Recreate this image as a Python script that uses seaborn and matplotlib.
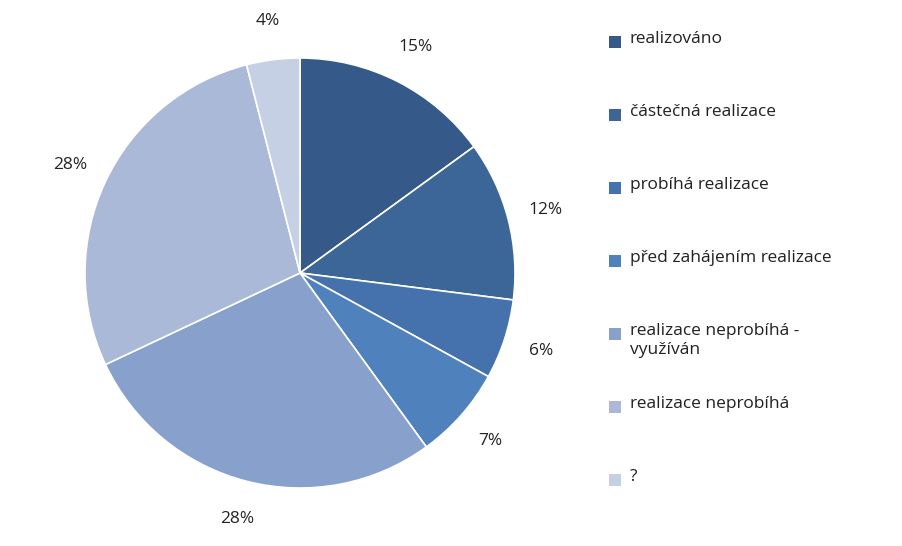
import matplotlib
matplotlib.use("Agg")
import matplotlib.pyplot as plt
import seaborn as sns
from matplotlib.patches import Rectangle

categories = ["realizováno", "částečná realizace", "probíhá realizace", "před zahájením realizace",
              "realizace neprobíhá -\nvyužíván", "realizace neprobíhá", "?"]
values = [15, 12, 6, 7, 28, 28, 4]
colors = ["#355A8A", "#3C6598", "#4572AC", "#4F81BD", "#88A1CC", "#AAB9D7", "#C6D0E4"]

sns.set_theme(style="white")
plt.rcParams["font.family"] = "Open Sans"
fig = plt.figure(figsize=(9.03, 5.46), dpi=100)
fig.patch.set_facecolor("white")
ax = fig.add_axes([85/903, 58/546, 430/903, 430/546])
wedges, texts, autotexts = ax.pie(values, colors=colors, startangle=90, counterclock=False,
       autopct=lambda p: f"{p:.0f}%", pctdistance=1.18,
       wedgeprops=dict(edgecolor="white", linewidth=1.2),
       textprops=dict(fontsize=12.5, color="#222222"))
for t in autotexts:
    t.set_clip_on(False)
ax.set_xlim(-1, 1)
ax.set_ylim(-1, 1)
ax.set_aspect("equal")
ax.axis("off")

for i, (lab, c) in enumerate(zip(categories, colors)):
    ytop = 42 + 73 * i
    fig.patches.append(Rectangle((609/903, 1 - (ytop + 6)/546), 12/903, 12/546,
                                 transform=fig.transFigure, facecolor=c, edgecolor="none"))
    fig.text(630/903, 1 - (ytop - 11)/546, lab, fontsize=12.5, va="top", ha="left",
             color="#222222", linespacing=1.25)

fig.savefig("out.png", dpi=100)
